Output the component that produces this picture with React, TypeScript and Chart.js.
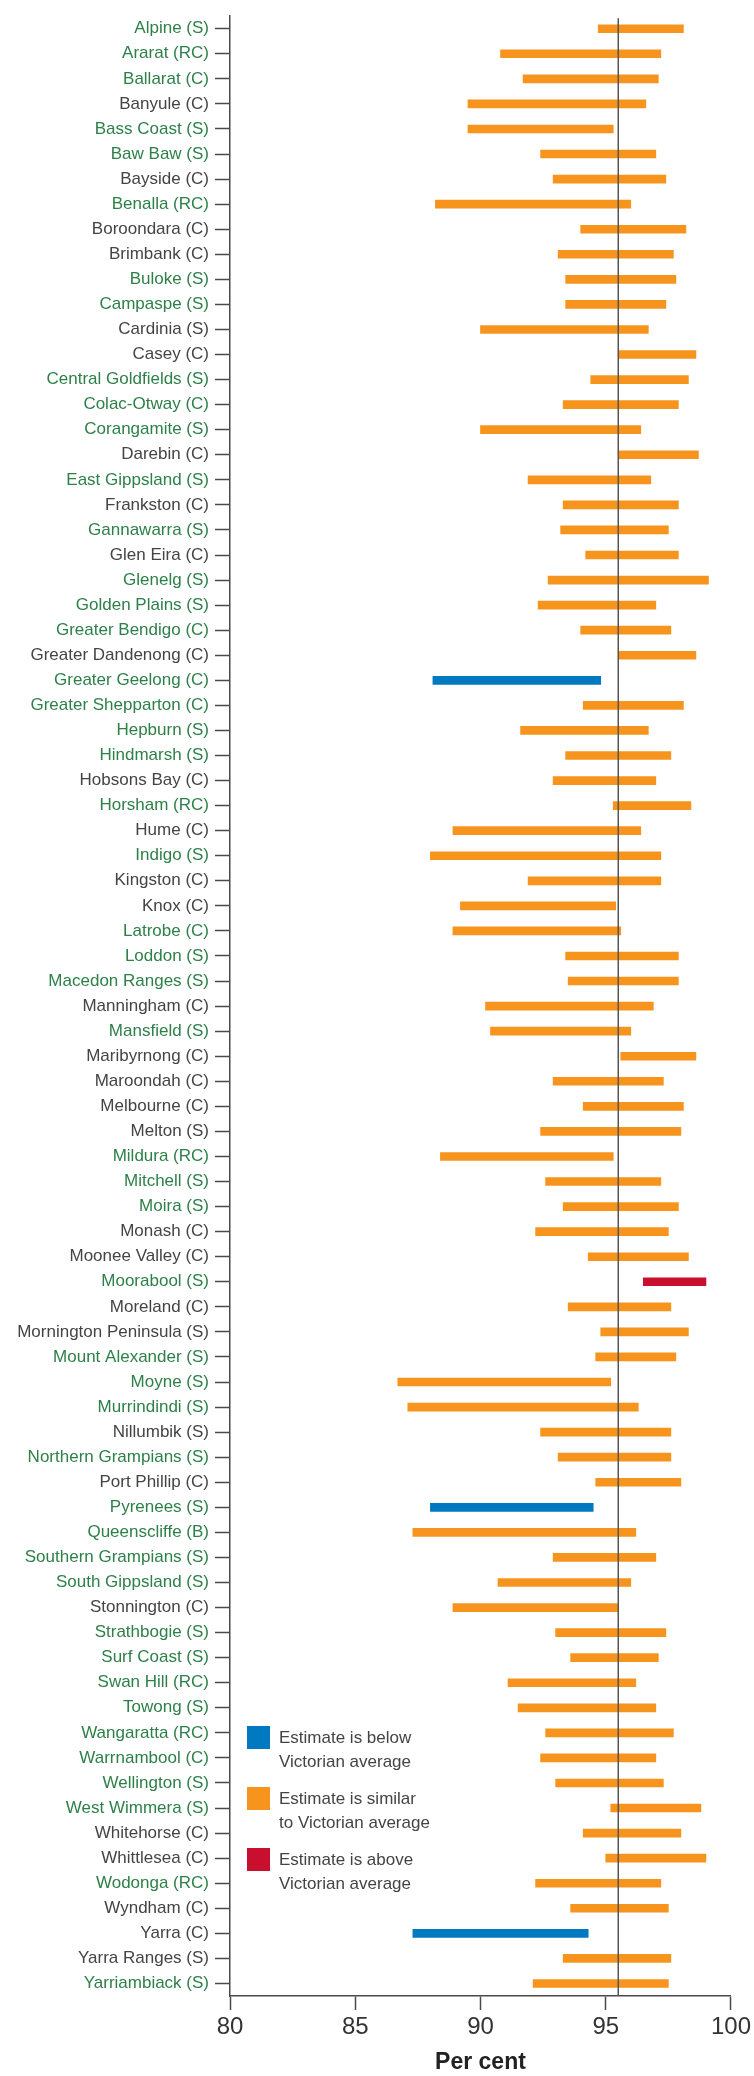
import React, { useEffect, useRef } from "react";
import { Chart, registerables } from "chart.js";

Chart.register(...registerables);

const LGAS = [
  "Alpine (S)", "Ararat (RC)", "Ballarat (C)", "Banyule (C)", "Bass Coast (S)", "Baw Baw (S)",
  "Bayside (C)", "Benalla (RC)", "Boroondara (C)", "Brimbank (C)", "Buloke (S)", "Campaspe (S)",
  "Cardinia (S)", "Casey (C)", "Central Goldfields (S)", "Colac-Otway (C)", "Corangamite (S)",
  "Darebin (C)", "East Gippsland (S)", "Frankston (C)", "Gannawarra (S)", "Glen Eira (C)",
  "Glenelg (S)", "Golden Plains (S)", "Greater Bendigo (C)", "Greater Dandenong (C)",
  "Greater Geelong (C)", "Greater Shepparton (C)", "Hepburn (S)", "Hindmarsh (S)",
  "Hobsons Bay (C)", "Horsham (RC)", "Hume (C)", "Indigo (S)", "Kingston (C)", "Knox (C)",
  "Latrobe (C)", "Loddon (S)", "Macedon Ranges (S)", "Manningham (C)", "Mansfield (S)",
  "Maribyrnong (C)", "Maroondah (C)", "Melbourne (C)", "Melton (S)", "Mildura (RC)",
  "Mitchell (S)", "Moira (S)", "Monash (C)", "Moonee Valley (C)", "Moorabool (S)",
  "Moreland (C)", "Mornington Peninsula (S)", "Mount Alexander (S)", "Moyne (S)",
  "Murrindindi (S)", "Nillumbik (S)", "Northern Grampians (S)", "Port Phillip (C)",
  "Pyrenees (S)", "Queenscliffe (B)", "Southern Grampians (S)", "South Gippsland (S)",
  "Stonnington (C)", "Strathbogie (S)", "Surf Coast (S)", "Swan Hill (RC)", "Towong (S)",
  "Wangaratta (RC)", "Warrnambool (C)", "Wellington (S)", "West Wimmera (S)",
  "Whitehorse (C)", "Whittlesea (C)", "Wodonga (RC)", "Wyndham (C)", "Yarra (C)",
  "Yarra Ranges (S)", "Yarriambiack (S)",
];

// Lower bound of the estimate (per cent)
const LOW = [
  94.7, 90.8, 91.7, 89.5, 89.5, 92.4, 92.9, 88.2, 94.0, 93.1, 93.4, 93.4, 90.0, 95.5,
  94.4, 93.3, 90.0, 95.5, 91.9, 93.3, 93.2, 94.2, 92.7, 92.3, 94.0, 95.5, 88.1,
  94.1, 91.6, 93.4, 92.9, 95.3, 88.9, 88.0, 91.9, 89.2, 88.9, 93.4, 93.5, 90.2, 90.4,
  95.6, 92.9, 94.1, 92.4, 88.4, 92.6, 93.3, 92.2, 94.3, 96.5, 93.5, 94.8, 94.6,
  86.7, 87.1, 92.4, 93.1, 94.6, 88.0, 87.3, 92.9, 90.7, 88.9, 93.0, 93.6, 91.1, 91.5,
  92.6, 92.4, 93.0, 95.2, 94.1, 95.0, 92.2, 93.6, 87.3, 93.3, 92.1,
];

// Upper bound of the estimate (per cent)
const HIGH = [
  98.1, 97.2, 97.1, 96.6, 95.3, 97.0, 97.4, 96.0, 98.2, 97.7, 97.8, 97.4, 96.7, 98.6,
  98.3, 97.9, 96.4, 98.7, 96.8, 97.9, 97.5, 97.9, 99.1, 97.0, 97.6, 98.6, 94.8,
  98.1, 96.7, 97.6, 97.0, 98.4, 96.4, 97.2, 97.2, 95.4, 95.6, 97.9, 97.9, 96.9, 96.0,
  98.6, 97.3, 98.1, 98.0, 95.3, 97.2, 97.9, 97.5, 98.3, 99.0, 97.6, 98.3, 97.8,
  95.2, 96.3, 97.6, 97.6, 98.0, 94.5, 96.2, 97.0, 96.0, 95.5, 97.4, 97.1, 96.2, 97.0,
  97.7, 97.0, 97.3, 98.8, 98.0, 99.0, 97.2, 97.5, 94.3, 97.6, 97.5,
];

// B = below, S = similar, A = above Victorian average
const STATUS = [
  "S", "S", "S", "S", "S", "S", "S", "S", "S", "S", "S", "S", "S", "S",
  "S", "S", "S", "S", "S", "S", "S", "S", "S", "S", "S", "S", "B",
  "S", "S", "S", "S", "S", "S", "S", "S", "S", "S", "S", "S", "S", "S",
  "S", "S", "S", "S", "S", "S", "S", "S", "S", "A", "S", "S", "S",
  "S", "S", "S", "S", "S", "B", "S", "S", "S", "S", "S", "S", "S", "S",
  "S", "S", "S", "S", "S", "S", "S", "S", "B", "S", "S",
];

// R = rural (green label), M = metropolitan (grey label)
const REGION = [
  "R", "R", "R", "M", "R", "R", "M", "R", "M", "M", "R", "R", "M", "M",
  "R", "R", "R", "M", "R", "M", "R", "M", "R", "R", "R", "M", "R",
  "R", "R", "R", "M", "R", "M", "R", "M", "M", "R", "R", "R", "M", "R",
  "M", "M", "M", "M", "R", "R", "R", "M", "M", "R", "M", "M", "R",
  "R", "R", "M", "R", "M", "R", "R", "R", "R", "M", "R", "R", "R", "R",
  "R", "R", "R", "R", "M", "M", "R", "M", "M", "M", "R",
];

const VIC_AVERAGE = 95.5;
const X_TICKS = [80, 85, 90, 95, 100];

const LEGEND_CODES = ["B", "S", "A"];
const LEGEND_LINES = [
  ["Estimate is below", "Victorian average"],
  ["Estimate is similar", "to Victorian average"],
  ["Estimate is above", "Victorian average"],
];

const STATUS_COLORS: Record<string, string> = {
  B: "#0079c1",
  S: "#f7941d",
  A: "#c8102e",
};
const GREEN = "#2e8049";
const GREY = "#444444";
const AXIS = "#4a4a4a";
const FONT = "'Liberation Sans', Arial, sans-serif";

export default function App() {
  const ref = useRef<HTMLCanvasElement | null>(null);

  useEffect(() => {
    if (!ref.current) return;

    const avgLine = {
      id: "avgLine",
      afterDatasetsDraw(chart: any) {
        const { ctx, chartArea, scales } = chart;
        const x = scales.x.getPixelForValue(VIC_AVERAGE);
        ctx.save();
        ctx.strokeStyle = "#555555";
        ctx.lineWidth = 1.5;
        ctx.beginPath();
        ctx.moveTo(x, chartArea.top + 2);
        ctx.lineTo(x, chartArea.bottom);
        ctx.stroke();
        ctx.restore();
      },
    };

    const legendPlugin = {
      id: "customLegend",
      afterDraw(chart: any) {
        const { ctx, chartArea } = chart;
        const left = chartArea.left + 17;
        const firstTop = chartArea.bottom - 270;
        const gap = 61;
        ctx.save();
        ctx.font = `17px ${FONT}`;
        ctx.textBaseline = "middle";
        ctx.textAlign = "left";
        LEGEND_CODES.forEach((code, i) => {
          const top = firstTop + i * gap;
          ctx.fillStyle = STATUS_COLORS[code];
          ctx.fillRect(left, top, 23, 23);
          ctx.fillStyle = GREY;
          LEGEND_LINES[i].forEach((line, j) => {
            ctx.fillText(line, left + 32, top + 12 + j * 24);
          });
        });
        ctx.restore();
      },
    };

    const chart = new Chart(ref.current, {
      type: "bar",
      data: {
        labels: LGAS,
        datasets: [
          {
            data: LOW.map((lo, i) => [lo, HIGH[i]]) as any,
            backgroundColor: STATUS.map((s) => STATUS_COLORS[s]),
            borderWidth: 0,
            borderSkipped: false,
            barThickness: 8,
          },
        ],
      },
      options: {
        indexAxis: "y",
        animation: false,
        responsive: false,
        maintainAspectRatio: false,
        layout: { padding: { top: 14, right: 23, bottom: 0, left: 0 } },
        plugins: {
          legend: { display: false },
          tooltip: { enabled: false },
        },
        scales: {
          x: {
            type: "linear",
            min: 80,
            max: 100,
            afterFit(scale: any) {
              scale.height = 80;
            },
            afterBuildTicks(scale: any) {
              scale.ticks = X_TICKS.map((v) => ({ value: v }));
            },
            grid: {
              drawOnChartArea: false,
              drawTicks: true,
              tickLength: 14,
              tickColor: AXIS,
              tickWidth: 1.5,
            },
            border: { display: true, color: AXIS, width: 1.5 },
            ticks: {
              font: { family: FONT, size: 24 },
              color: "#333333",
              padding: 3,
              maxRotation: 0,
            },
            title: {
              display: true,
              text: "Per cent",
              font: { family: FONT, size: 23, weight: "bold" },
              color: "#222222",
              padding: { top: 0, bottom: 0 },
            },
          },
          y: {
            type: "category",
            offset: true,
            afterFit(scale: any) {
              scale.width = 230;
            },
            grid: {
              offset: false,
              drawOnChartArea: false,
              drawTicks: true,
              tickLength: 15,
              tickColor: AXIS,
              tickWidth: 1.5,
            },
            border: { display: true, color: AXIS, width: 1.5 },
            ticks: {
              autoSkip: false,
              padding: 6,
              font: { family: FONT, size: 17 },
              color: (c: any) => (REGION[c.index] === "R" ? GREEN : GREY),
            },
          },
        },
      },
      plugins: [avgLine, legendPlugin],
    });

    return () => chart.destroy();
  }, []);

  return (
    <div style={{ position: "absolute", left: 0, top: 0, width: 754, height: 2076, background: "#fff" }}>
      <canvas ref={ref} width={754} height={2076} style={{ width: 754, height: 2076, display: "block" }} />
    </div>
  );
}
